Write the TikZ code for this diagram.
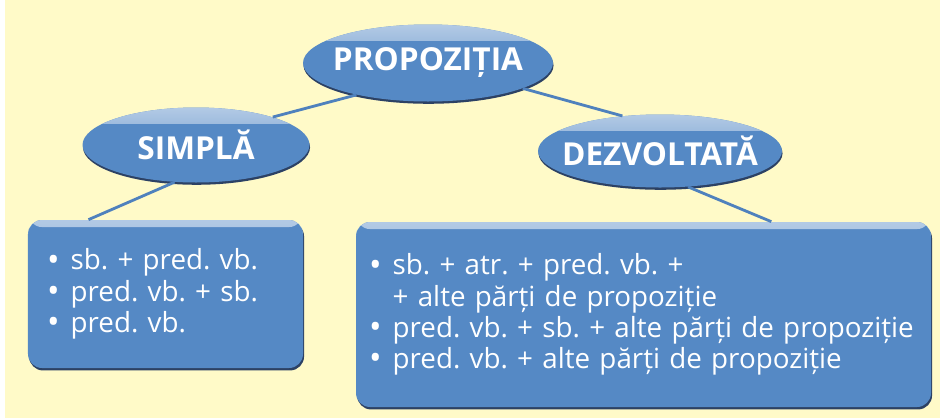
\documentclass[tikz,border=0pt]{standalone}
\usepackage{fontspec}
\setmainfont{Open Sans}
\usepackage{tikz}
\usetikzlibrary{shapes.geometric,shadows}

\definecolor{paper}{RGB}{255,250,200}
\definecolor{boxblue}{RGB}{85,137,197}
\definecolor{linkblue}{RGB}{79,129,189}
\definecolor{rimblue}{RGB}{22,45,90}

\newcommand{\listdot}{\smash{\fontsize{19}{17}\selectfont\raisebox{-0.04em}{•}}\hspace{0.4em}}
\frenchspacing
\hyphenpenalty=10000
\exhyphenpenalty=10000

\begin{document}
\begin{tikzpicture}[
  concept/.style={ellipse, fill=boxblue, inner xsep=-0.3cm, inner ysep=0pt,
                  text=white, font=\fontsize{18}{20}\selectfont\bfseries,
                  drop shadow={shadow xshift=0.3pt, shadow yshift=-1.3pt, fill=rimblue, opacity=0.9},
                  path picture={\shade[top color=boxblue!45!white, bottom color=boxblue]
                    (path picture bounding box.north west) rectangle
                    ([yshift=-9pt]path picture bounding box.north east);}},
  listbox/.style={rectangle, rounded corners=8pt, fill=boxblue, inner xsep=0.26cm,
                  align=left, text=white, font=\fontsize{15.8}{17.8}\selectfont,
                  drop shadow={shadow xshift=0.6pt, shadow yshift=-1.4pt, fill=rimblue, opacity=0.9},
                  path picture={\shade[top color=boxblue!45!white, bottom color=boxblue]
                    (path picture bounding box.north west) rectangle
                    ([yshift=-4pt]path picture bounding box.north east);}},
  link/.style={draw=linkblue, line width=1.6pt}
]
% Background
\fill[white] (0,0) rectangle (18.8,8.36);
\fill[paper] (0.1,0) rectangle (18.8,8.36);
\useasboundingbox (0,0) rectangle (18.8,8.36);

% Top concept
\node[concept, minimum width=5cm, minimum height=1.54cm] (prop) at (8.56, 7.10) {PROPOZIȚIA};

% Branches
\node[concept, minimum width=4.54cm, minimum height=1.5cm] (simpla) at (3.92, 5.46) {SIMPLĂ};
\node[concept, minimum width=4.88cm, minimum height=1.46cm] (dezv) at (13.2, 5.34) {DEZVOLTATĂ};

% Lists
\node[listbox, inner xsep=0.38cm, text width=4.74cm, minimum height=2.96cm] (simplaList) at (3.31, 2.48)
  {\listdot sb. + pred. vb.\\\listdot pred. vb. + sb.\\\listdot pred. vb.};
\node[listbox, text width=10.98cm, minimum height=3.7cm] (dezvList) at (12.87, 2.07)
  {\listdot sb. + atr. + pred. vb. +\\\phantom{\listdot}+ alte părți de propoziție\\
   \listdot pred. vb. + sb. + alte părți de propoziție\\\listdot pred. vb. + alte părți de propoziție\\[-6pt]};

% Links
\draw[link] (prop.204) -- (simpla.20);
\draw[link] (prop.345) -- (dezv.137);
\draw[link] (simpla.240) -- (simplaList.136);
\draw[link] (dezv.308) -- (dezvList.36);
\end{tikzpicture}
\end{document}
